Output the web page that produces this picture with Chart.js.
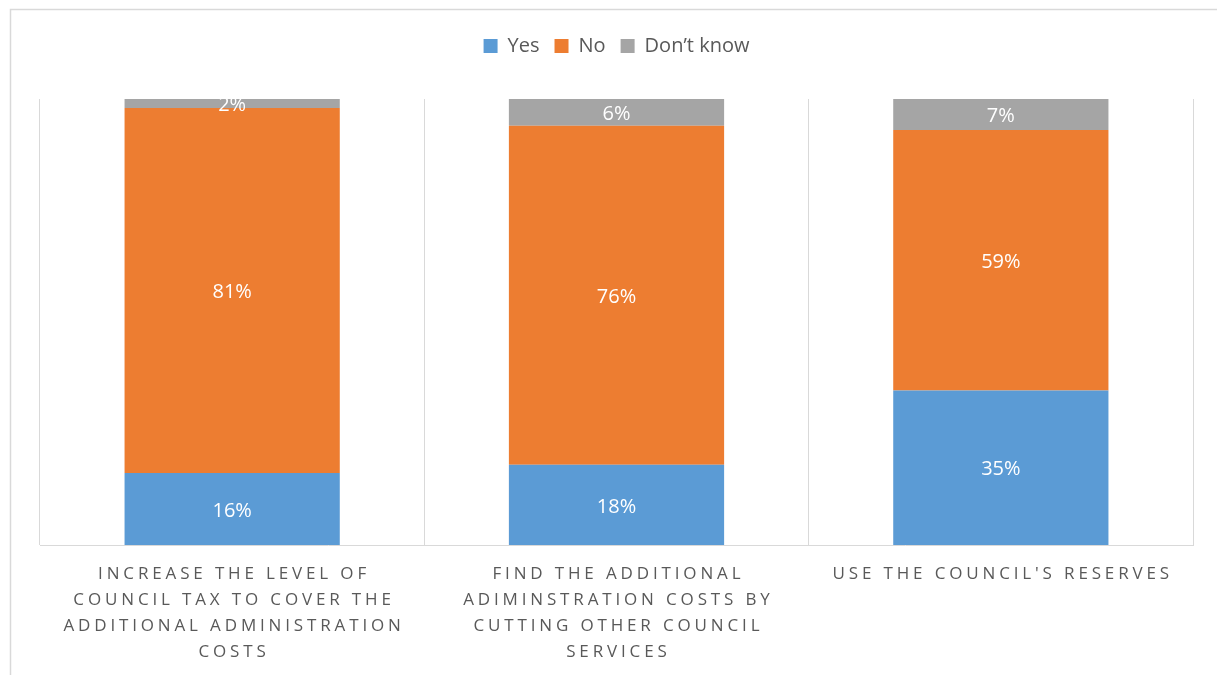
<!DOCTYPE html>
<html>
<head>
<meta charset="utf-8">
<script src="https://cdn.jsdelivr.net/npm/chart.js@4.4.1/dist/chart.umd.min.js"></script>
<style>
  html, body { margin: 0; padding: 0; background: #fff; }
  #wrap { width: 1217px; height: 675px; }
</style>
</head>
<body>
<div id="wrap"><canvas id="myChart" width="1217" height="675"></canvas></div>
<script>
// Categories (each is split into the lines shown under the axis)
const categories = [
    ['INCREASE THE LEVEL OF', 'COUNCIL TAX TO COVER THE', 'ADDITIONAL ADMINISTRATION', 'COSTS'],
    ['FIND THE ADDITIONAL', 'ADIMINSTRATION COSTS BY', 'CUTTING OTHER COUNCIL', 'SERVICES'],
    ["USE THE COUNCIL'S RESERVES"]
];
const seriesNames = ['Yes', 'No', 'Don\u2019t know'];
const yesValues = [16, 18, 35];
const noValues = [81, 76, 59];
const dontKnowValues = [2, 6, 7];

document.addEventListener('DOMContentLoaded', () => {
    const raw = [yesValues, noValues, dontKnowValues];
    const colors = ['#5B9BD5', '#ED7D31', '#A5A5A5'];
    const textColor = '#595959';
    const lineColor = '#d9d9d9';

    // 100% stacked: each column is scaled to its own total
    const totals = categories.map((c, i) => raw.reduce((s, arr) => s + arr[i], 0));
    const toShare = arr => arr.map((v, i) => v / totals[i] * 100);

    // Frame round the chart
    const framePlugin = {
        id: 'frame',
        beforeDraw(chart) {
            const ctx = chart.ctx;
            ctx.save();
            ctx.strokeStyle = lineColor;
            ctx.lineWidth = 1.5;
            ctx.beginPath();
            ctx.moveTo(10.5, chart.height);
            ctx.lineTo(10.5, 9.5);
            ctx.lineTo(chart.width, 9.5);
            ctx.stroke();
            ctx.restore();
        }
    };

    // Spaced capitals on the category axis
    const spacedTicks = {
        id: 'spacedTicks',
        beforeDraw(chart) {
            const scale = chart.scales.x;
            if (!scale || scale._spaced) return;
            const orig = scale.drawLabels.bind(scale);
            scale.drawLabels = function(area) {
                const ctx = chart.ctx;
                ctx.save();
                ctx.letterSpacing = '3.85px';
                ctx.translate(1.9, 0);
                orig(area);
                ctx.restore();
            };
            scale._spaced = true;
        }
    };

    // Percent labels inside the segments
    const valueLabels = {
        id: 'valueLabels',
        afterDatasetsDraw(chart) {
            const ctx = chart.ctx;
            ctx.save();
            ctx.font = '20px "Open Sans"';
            ctx.fillStyle = '#ffffff';
            ctx.textAlign = 'center';
            ctx.textBaseline = 'middle';
            chart.data.datasets.forEach((ds, di) => {
                chart.getDatasetMeta(di).data.forEach((bar, i) => {
                    ctx.fillText(raw[di][i] + '%', bar.x, (bar.y + bar.base) / 2 + 2);
                });
            });
            ctx.restore();
        }
    };

    const ctx = document.getElementById('myChart').getContext('2d');
    new Chart(ctx, {
        type: 'bar',
        data: {
            labels: categories,
            datasets: raw.map((arr, i) => ({
                label: seriesNames[i],
                data: toShare(arr),
                backgroundColor: colors[i],
                barPercentage: 0.56,
                categoryPercentage: 1.0
            }))
        },
        options: {
            responsive: false,
            animation: false,
            layout: { padding: { left: 40, right: 24, top: 21, bottom: 10 } },
            plugins: {
                legend: {
                    position: 'top',
                    labels: {
                        color: textColor,
                        font: { family: 'Open Sans', size: 20 },
                        boxWidth: 14,
                        boxHeight: 14,
                        padding: 15
                    }
                },
                subtitle: {
                    display: true,
                    text: ' ',
                    weight: 500,
                    padding: 0,
                    font: { size: 10, lineHeight: 3.3 }
                },
                tooltip: { enabled: false }
            },
            scales: {
                x: {
                    stacked: true,
                    grid: { color: lineColor, offset: true, drawTicks: false },
                    border: { color: lineColor },
                    ticks: {
                        color: textColor,
                        font: { family: 'Open Sans', size: 17, lineHeight: 1.53 },
                        padding: 16,
                        maxRotation: 0,
                        autoSkip: false
                    },
                    afterFit(scale) {
                        scale.height = 120;
                    }
                },
                y: {
                    stacked: true,
                    min: 0,
                    max: 100,
                    display: false
                }
            }
        },
        plugins: [framePlugin, spacedTicks, valueLabels]
    });
});
</script>
</body>
</html>
